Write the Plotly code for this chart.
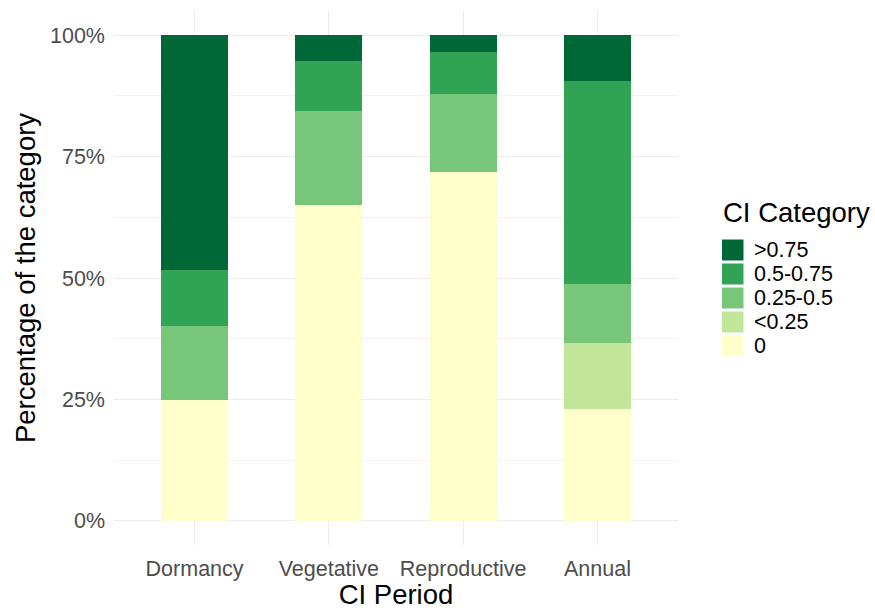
import plotly.graph_objects as go

periods = ["Dormancy", "Vegetative", "Reproductive", "Annual"]
categories = ["0", "<0.25", "0.25-0.5", "0.5-0.75", ">0.75"]
cat_colors = ["#ffffcc", "#c2e699", "#78c679", "#31a354", "#006837"]

val_0 = [24.9, 65.1, 71.9, 23.0]
val_lt025 = [0.0, 0.0, 0.0, 13.7]
val_025_05 = [15.2, 19.2, 16.1, 12.0]
val_05_075 = [11.5, 10.5, 8.5, 41.8]
val_gt075 = [48.4, 5.2, 3.5, 9.5]

series = [val_0, val_lt025, val_025_05, val_05_075, val_gt075]

y_tickvals = [0, 25, 50, 75, 100]
y_ticktext = ["0%", "25%", "50%", "75%", "100%"]

W, H = 875, 610
ML, MR, MT, MB = 114, 197, 11, 65
PW, PH = W - ML - MR, H - MT - MB


def px_x(x):
    return (x - ML) / PW


def px_y(y):
    return (H - MB - y) / PH


fig = go.Figure()
for name, color, vals in zip(categories, cat_colors, series):
    fig.add_trace(go.Bar(
        x=periods, y=vals, name=name, width=0.5,
        marker=dict(color=color, line=dict(width=0)),
        showlegend=False,
    ))

font_family = "Liberation Sans, Arial, sans-serif"
title_size = 27.5
tick_size = 21.5

# Legend (ggplot style): title, keys, labels, top entry = last category
annotations = [dict(
    text="CI Category", xref="paper", yref="paper",
    x=px_x(721), y=px_y(212), xanchor="left", yanchor="middle",
    showarrow=False, font=dict(size=title_size, color="black"),
)]
shapes = []
legend_order = list(range(len(categories)))[::-1]
for i, k in enumerate(legend_order):
    cy = 250 + 24 * i
    shapes.append(dict(
        type="rect", xref="paper", yref="paper",
        x0=px_x(722), x1=px_x(743.5), y0=px_y(cy + 10.5), y1=px_y(cy - 10.5),
        fillcolor=cat_colors[k], line=dict(width=0), layer="above",
    ))
    annotations.append(dict(
        text=categories[k], xref="paper", yref="paper",
        x=px_x(752), y=px_y(cy), xanchor="left", yanchor="middle",
        showarrow=False, font=dict(size=tick_size, color="black"),
    ))

fig.update_layout(
    barmode="stack",
    width=W, height=H,
    paper_bgcolor="white", plot_bgcolor="white",
    margin=dict(l=ML, r=MR, t=MT, b=MB, autoexpand=False),
    font=dict(family=font_family, color="black"),
    showlegend=False,
    annotations=annotations,
    shapes=shapes,
    xaxis=dict(
        range=[-0.6, 3.6], automargin=False,
        showgrid=True, gridcolor="#ebebeb", gridwidth=1,
        ticks="", showline=False, zeroline=False,
        tickfont=dict(size=tick_size, color="#4d4d4d"),
        ticklabelstandoff=8,
        title=dict(text="CI Period", font=dict(size=title_size, color="black"), standoff=10),
    ),
    yaxis=dict(
        range=[-5, 105], automargin=False,
        tickvals=y_tickvals, ticktext=y_ticktext,
        showgrid=True, gridcolor="#ebebeb", gridwidth=1,
        zeroline=False, showline=False, ticks="",
        tickfont=dict(size=tick_size, color="#4d4d4d"),
        ticklabelstandoff=8,
        minor=dict(tickvals=[12.5, 37.5, 62.5, 87.5], showgrid=True,
                   gridcolor="#f2f2f2", gridwidth=1),
        title=dict(text="Percentage of the category", font=dict(size=title_size, color="black"), standoff=6),
    ),
)

fig.write_html(
    "out.html",
    config={"displayModeBar": False},
    post_script="document.body.style.margin='0px';document.body.style.overflow='hidden';",
)
